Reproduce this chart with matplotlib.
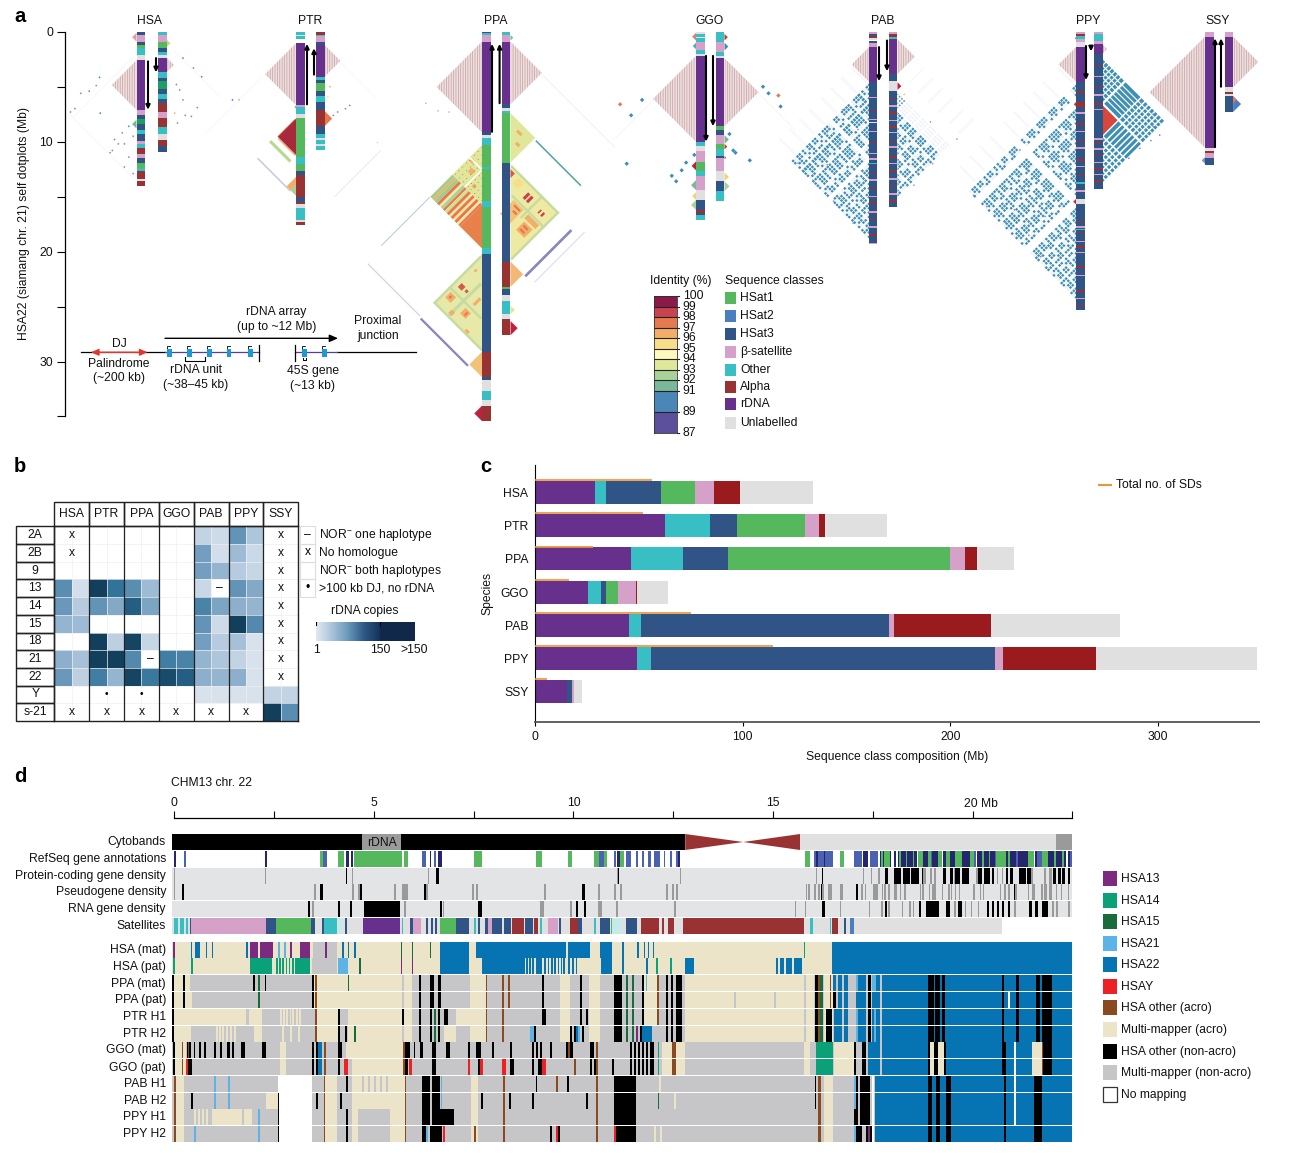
import numpy as np
import matplotlib
matplotlib.use('Agg')
import matplotlib.pyplot as plt
from matplotlib.patches import Polygon, Rectangle
from matplotlib.collections import PolyCollection
from matplotlib.colors import LinearSegmentedColormap, ListedColormap

plt.rcParams['font.family'] = ['Liberation Sans', 'DejaVu Sans']
plt.rcParams['mathtext.default'] = 'regular'
plt.rcParams['hatch.linewidth'] = 0.5
FS = 8.7

CLS = {'r': '#66308c', 's': '#315487', 'g': '#56b85c', 'G': '#1e9e60', 'b': '#d6a1c8', 'o': '#38bfc4',
       'a': '#993333', 'u': '#e0e0e0', 'h': '#4a7ebf', 'w': '#ffffff', 'd': '#2c3a5c'}

# ---------------- panel a: sequence-class tracks (class, end Mb) -----------------
hsa_l = [('s',.3),('b',.9),('s',1.2),('g',1.5),('o',2.1),('u',2.6),('r',7.1),('b',7.6),('s',7.9),('G',8.4),('s',8.9),('o',9.3),('s',9.9),('b',10.2),('o',10.6),('a',11.1),('b',11.5),('s',11.9),('g',12.4),('o',12.7),('a',13.4),('u',13.6),('a',14.0)]
hsa_r = [('o',.3),('b',.9),('g',1.5),('s',1.8),('o',2.1),('u',2.35),('r',3.7),('o',4.2),('s',4.5),('G',5.2),('s',5.7),('o',6.1),('s',6.5),('a',7.3),('b',7.8),('a',8.7),('o',9.3),('u',9.8),('a',10.4),('s',10.9)]
ptr_l = [('o',.3),('u',.4),('o',.7),('w',1.05),('r',6.67),('b',6.8),('o',7.5),('u',7.8),('g',11.4),('o',12.0),('g',12.7),('s',13.0),('a',15.0),('s',15.5),('a',15.7),('u',16.0),('o',16.4),('o',17.1),('u',17.3),('a',17.6)]
ptr_r = [('a',.3),('o',.4),('b',.9),('s',1.2),('r',4.1),('o',4.4),('s',4.7),('g',5.4),('s',5.8),('o',6.4),('s',7.1),('a',8.6),('s',9.3),('o',9.7),('u',9.85),('o',10.2),('u',10.35),('o',10.75)]
ppa_l = [('s',.1),('o',.3),('b',.9),('r',9.15),('s',9.35),('u',9.7),('o',10.3),('g',12.3),('o',12.5),('g',15.4),('o',15.9),('g',19.7),('o',20.2),('s',29.1),('a',31.4),('s',31.7),('u',32.7),('o',33.5),('u',34.0),('a',35.4)]
ppa_r = [('o',.3),('b',.9),('r',6.6),('s',6.9),('u',7.2),('o',7.4),('g',11.9),('s',20.9),('a',23.2),('g',23.4),('s',23.9),('u',24.5),('o',25.7),('u',26.1),('a',27.6)]
ggo_l = [('u',.2),('o',.5),('u',.6),('o',.9),('b',1.7),('o',2.0),('u',2.2),('r',10.0),('o',10.4),('u',10.8),('b',11.8),('g',12.7),('o',13.1),('b',14.4),('u',15.3),('s',16.2),('a',16.5),('s',16.7),('o',17.1)]
ggo_r = [('o',.9),('b',1.8),('o',2.2),('u',2.4),('r',8.6),('g',8.9),('s',9.4),('b',10.2),('g',10.7),('o',11.3),('s',11.5),('b',12.7),('u',13.6),('s',14.5),('o',15.4)]
pab_l = [('b',.2),('s',.4),('a',.6),('u',.8),('s',1.0),('b',1.4),('r',4.55),('s',19.3)]
pab_r = [('b',.2),('a',.5),('o',.7),('r',3.85),('s',4.5),('u',5.4),('s',15.9)]
ppy_l = [('b',.2),('a',.4),('o',.7),('b',.9),('u',1.4),('r',4.55),('s',6.4),('a',6.8),('s',15.2),('u',15.7),('s',25.3)]
ppy_r = [('b',.2),('o',.8),('b',1.15),('r',2.0),('s',14.3)]
ssy_l = [('b',.45),('r',10.55),('u',10.8),('a',11.0),('b',11.5),('s',12.1)]
ssy_r = [('b',.45),('r',5.05),('u',5.5),('a',5.7),('u',5.85),('s',7.3)]

pab_l_marks = [('b',5.9),('a',7.1),('b',7.9),('u',8.2),('b',9.0),('a',10.1),('b',11.0),('b',11.5),('o',11.9),('a',12.8),('b',13.4),('a',14.2),('b',14.9),('a',15.5),('b',16.3),('a',17.0),('b',17.7),('a',18.4),('b',19.2)]
pab_r_marks = [('a',6.0),('b',6.7),('a',7.3),('b',8.0),('a',8.6),('b',9.1),('a',9.8),('b',10.4),('a',11.3),('b',11.9),('a',12.6),('b',13.3),('a',14.1),('b',14.7),('a',15.3)]
ppy_l_marks = [('a',5.4),('b',7.3),('a',8.3),('b',9.0),('a',9.8),('b',10.5),('a',11.6),('b',12.2),('a',13.0),('o',13.7),('b',14.4),('a',17.2),('b',17.7),('a',18.2),('o',17.9),('b',19.0),('a',19.5),('b',20.0),('a',21.3),('b',22.1),('a',23.5),('b',24.2),('a',24.8)]
ppy_r_marks = [('a',3.0),('b',4.0),('a',4.9),('b',5.7),('a',6.5),('b',7.0),('b',9.7),('a',10.1),('b',10.6),('a',11.2),('b',11.8),('a',12.4),('b',12.9),('a',13.5)]
hsat_marks = {'pab_l': pab_l_marks, 'pab_r': pab_r_marks, 'ppy_l': ppy_l_marks, 'ppy_r': ppy_r_marks}

species = ['HSA', 'PTR', 'PPA', 'GGO', 'PAB', 'PPY', 'SSY']
tracks = {'HSA': (hsa_l, hsa_r), 'PTR': (ptr_l, ptr_r), 'PPA': (ppa_l, ppa_r), 'GGO': (ggo_l, ggo_r),
          'PAB': (pab_l, pab_r), 'PPY': (ppy_l, ppy_r), 'SSY': (ssy_l, ssy_r)}
arrows = {'HSA': ((2.7,7.1),(2.4,3.7)), 'PTR': ((6.6,1.1),(3.9,1.5)), 'PPA': ((9.1,1.1),(6.5,1.1)),
          'GGO': ((2.2,10.0),(2.2,8.6)), 'PAB': ((1.4,4.5),(.8,3.6)), 'PPY': ((1.3,4.4),(1.3,1.8)),
          'SSY': ((10.5,.6),(5.0,.6))}
rdna_spans = {'HSA': ((2.6,7.1),(2.35,3.7)), 'PTR': ((1.05,6.67),(1.2,4.1)), 'PPA': ((.9,9.15),(.9,6.6)),
              'GGO': ((2.2,10.0),(2.4,8.6)), 'PAB': ((1.4,4.55),(.7,3.85)), 'PPY': ((1.4,4.55),(1.15,2.0)),
              'SSY': ((.45,10.55),(.45,5.05))}

I100, I99, I98, I97, I96, I95, I94, I93, I92, I91, I89 = ['#8b1a4b','#c8424f','#e57a4e','#f3ae6a','#f8dd8a','#fdf7c0','#dfe89a','#a9d29a','#7ab89a','#4a86b8','#5b4f9e']
TILE = '#3d8fb5'; LILAC = '#8a88c0'; PALE = '#f7f8fb'; BASE_L = '#e6e9a8'; BASE_R = '#eeeaa2'; GRN = '#c4dca2'; YG = '#dfe89a'

ppa_base = [(10.3,15.7,YG,0),(20.2,29.1,BASE_L,0),(7.4,11.9,YG,1),(12.0,20.9,BASE_R,1),(24.9,25.7,YG,1)]
base_selfs = {'PPA': ppa_base}
hsa_selfs = [(.1,.9,'#d9a0a0',0),(.7,1.4,'#c8d878',1),(8.0,8.8,'#7ab89a',0)]
ptr_selfs = [(7.9,11.2,'#a8283c',0),(13.2,14.9,'#f3ae6a',0),(13.9,14.9,'#a9d29a',0),(7.2,8.6,'#e57a4e',1),(6.7,7.0,'#7ab89a',0)]
ppa_selfs = [(15.7,19.7,'#e8804a',0),(29.1,31.4,'#f3c27a',0),(34.0,35.4,'#c0203f',0),(20.9,23.2,'#f3b875',1),(26.3,27.6,'#c0203f',1),(.3,.8,'#7ab89a',1),(12.5,13.3,'#d05a50',1)]
ggo_selfs = [(.1,.8,'#e08070',0),(1.0,1.6,'#5aa8b0',0),(11.8,12.6,'#c02040',0),(13.5,14.4,'#7ab89a',0),(14.6,15.3,'#f3d080',0),(15.3,16.2,'#a9d29a',0),
             (.2,.8,'#c0382f',1),(1.0,1.7,'#3d8fb5',1),(9.4,10.2,'#7ab89a',1),(10.2,10.7,'#c0382f',1),(11.3,11.6,'#c0382f',1),(12.8,13.6,'#f3d080',1),(13.6,14.5,'#a9d29a',1)]
pab_selfs = [(4.6,5.3,'#c0203f',1)]
ppy_selfs = [(6.4,6.8,'#c0382f',0),(15.2,15.7,'#c0203f',0),(6.7,9.4,'#d9463c',1),(.5,.7,'#c0382f',0)]
ssy_selfs = [(5.85,7.3,'#4a7ebf',1),(5.85,6.5,'#e57a4e',1),(11.4,12.0,'#7a8fc0',0)]
selfs = {'HSA': hsa_selfs, 'PTR': ptr_selfs, 'PPA': ppa_selfs, 'GGO': ggo_selfs, 'PAB': pab_selfs, 'PPY': ppy_selfs, 'SSY': ssy_selfs}

hsa_bands = [(1.3,14.0,13.55,13.6,'#ececf2',0),(2.0,2.05,2.6,13.6,'#ececf2',0),(1.0,1.05,2.4,10.9,'#ececf2',1)]
ptr_bands = [(7.6,11.3,12.1,12.5,'#b8d890',0),(8.0,14.0,14.9,15.1,'#c8c8e0',0),(7.8,8.1,8.1,11.2,'#f3ae6a',0),(8.1,11.2,11.2,11.4,'#f3ae6a',0),(1.0,1.05,7,17.4,'#f0f0f4',0),(1.3,1.35,4.1,10.7,'#f0f0f4',1)]
ppa_lines = [(20.5,29.1,31.5,31.8,LILAC,0),(10.7,20.2,31.4,31.55,'#d0d0e4',0),(10.25,10.35,19.8,28.6,'#9cc4c8',0),(1.55,1.62,20,28.4,'#cfe0e0',0),
             (12.5,20.9,23.4,23.75,LILAC,1),(7.5,7.7,12.2,20.4,'#5aa0a0',1),(1.0,1.07,7,20,'#dfe6e6',1),(11.5,20.6,24.9,25.0,'#d0d0e4',1)]
ppa_stripes = [(10.3,10.7,'#9ecf8a'),(10.7,11.0,I97),(11.0,11.5,'#9ecf8a'),(11.5,11.9,I98),(11.9,12.2,'#f6e7a0'),(12.2,12.6,'#a9d29a'),(12.6,12.9,I98),(12.9,13.3,'#cfe28f'),(13.3,13.7,I98),(13.7,14.0,'#f6e7a0'),(14.0,14.4,I98),(14.4,14.7,'#f6e7a0'),(14.7,15.1,I98),(15.1,15.4,'#f6e7a0'),(15.4,15.7,I98)]
ppa_patches = [(22.6,23.0,23,29,GRN,0),(20.2,26.0,26.0,26.3,GRN,0),(20.2,20.5,20.5,29,GRN,0),(20.2,29,28.8,29.1,GRN,0),
               (21.0,21.7,24.7,25.4,'#cf5a4e',0),(22.0,22.4,24.8,25.2,'#cf5a4e',0),(20.8,21.8,26.5,27.5,I97,0),(23.6,24.6,26.6,27.6,I97,0),(22.5,23.1,28.0,28.6,I97,0),(25.6,26.2,28.4,28.8,I97,0),(23.9,24.3,24.4,25.6,I97,0),(21.0,21.3,22.1,22.5,I97,0),
               (24.1,24.35,26.8,27.4,I98,0),(21.1,21.4,26.8,27.2,I98,0),
               (12.0,16.0,17.7,18.0,GRN,1),(14.6,14.9,15.0,20.9,GRN,1),(12.0,12.3,12.3,20.9,GRN,1),(12,20.6,20.6,20.9,GRN,1),
               (13.0,14.0,16.2,16.6,I99,1),(13.0,14.0,16.8,17.2,I99,1),(13.4,14.0,18.9,19.1,I99,1),(13.4,14.0,19.4,19.7,I99,1),(16.0,17.5,18.5,20.0,I97,1),(16.3,16.6,18.8,19.6,I98,1),(16.9,17.2,18.8,19.6,I98,1),(15.0,15.7,18.2,20.2,I97,1),
               (15.0,17.5,15.6,17.4,'#f3c27a',1),(15.3,15.6,16.1,17.2,I98,1),(15.9,16.2,16.5,17.2,I98,1),(12.6,13.6,14.0,15.0,I96,1),
               (11.4,12.1,13.3,14.0,I97,0),(10.6,11.1,12.4,12.9,I97,0),(13.1,13.6,14.5,15.0,I97,0),(12.45,12.65,12.7,15.7,'#ffffff',0),(10.3,12.45,12.45,12.65,'#ffffff',0),
               (8.2,8.6,9.6,10.4,I97,1),(9.4,9.8,10.6,11.2,I97,1)]
ppa_bands = ppa_lines + [(a,b,15.7,19.7,c,0) for a,b,c in ppa_stripes] + ppa_patches
ggo_bands = [(2.3,2.37,10,17,'#f0f0f4',0),(2.5,2.57,8.6,15.4,'#f0f0f4',1)]
bands = {'HSA': hsa_bands, 'PTR': ptr_bands, 'PPA': ppa_bands, 'GGO': ggo_bands, 'PAB': [], 'PPY': [], 'SSY': []}

hsa_spots = [(5.6,5.06,LILAC,0),(5.4,4.3,TILE,0),(4.15,3.36,TILE,0),(4.9,3.66,LILAC,0),(7.0,5.6,LILAC,0),(7.3,6.0,LILAC,0),(10.8,2.2,LILAC,0),(9.2,1.3,LILAC,0),(8.6,.7,TILE,0),(10.2,1.1,LILAC,0),(9.5,.3,LILAC,0),(10.2,1.66,LILAC,0),(11.0,2.4,LILAC,0),(11.4,.7,LILAC,0),(12.9,.3,LILAC,0),(12.3,1.1,LILAC,0),(9.8,2.0,LILAC,0),(7.4,3.3,TILE,0),
             (2.4,1.5,TILE,1),(3.3,2.45,LILAC,1),(4.1,3.2,TILE,1),(6.2,1.5,LILAC,1),(7.4,.75,I97,1),(7.6,1.7,LILAC,1),(7.7,2.26,LILAC,1),(6.2,6.6,I97,1),(6.2,6.0,TILE,1),(5.3,1.2,LILAC,1),(8.3,1.0,LILAC,1),(4.8,.9,LILAC,1),(6.9,2.8,LILAC,1)]
ptr_spots = [(7.3,1.2,LILAC,1),(7.0,1.9,LILAC,1),(7.6,.8,LILAC,1),(6.7,2.3,LILAC,1),(5.0,.5,I97,1),(5.9,.3,I96,1)]
ppa_spots = [(7.3,3.0,'#7ab89a',0),(7.2,4.0,'#7ab89a',0),(6.5,5.1,'#7ab89a',0),(10.1,9.5,'#c8d8d8',0)]
ggo_spots = [(12.6,1.3,TILE,0),(13.1,2.2,TILE,0),(11.2,.15,TILE,0),(11.9,.9,TILE,0),(6.2,4.9,TILE,0),(7.6,5.9,TILE,0),(12.0,6.3,TILE,0),(6.6,6.9,I98,0),(13.6,1.8,TILE,0),
             (5.0,3.5,TILE,1),(5.6,4.0,TILE,1),(5.8,4.9,I98,1),(6.8,5.1,TILE,1),(11.0,1.0,TILE,1),(11.7,2.3,TILE,1),(9.3,.45,TILE,1),(10.8,.8,TILE,1)]
pab_spots = [(5.7,.6,I97,1),(5.9,.3,I96,1),(11.95,6.45,LILAC,0),(13.5,5.1,LILAC,0),(12.1,3.8,LILAC,0),(12.85,3.1,LILAC,0),(8.9,1.0,LILAC,0),(7.1,2.4,LILAC,0),(17.4,1.45,LILAC,0),(14.2,4.45,LILAC,0),(10.4,5.3,LILAC,0),(15.4,3.2,LILAC,0),(13.95,1.5,LILAC,1),(9.76,5.4,LILAC,1),(12.0,3.2,LILAC,1),(8.2,3.0,LILAC,1)]
ppy_spots = [(15.9,8.1,LILAC,0),(13.5,3.4,LILAC,0),(10.75,5.1,LILAC,0),(16.8,2.8,LILAC,0),(12.6,4.4,LILAC,0),(17.3,6.4,LILAC,0),(6.5,1.3,LILAC,0),(20.45,3.2,LILAC,0),(14.9,9.3,LILAC,0),(18.5,4.3,LILAC,0),(16.2,5.6,LILAC,0),(11.4,3.0,LILAC,0),
             (8.6,4.6,LILAC,1),(9.4,5.2,LILAC,1),(7.5,4.6,LILAC,1),(10.6,3.4,LILAC,1),(9.9,4.4,LILAC,1),(11.5,2.4,LILAC,1),(6.4,3.5,LILAC,1)]
ssy_spots = []
spots = {'HSA': hsa_spots, 'PTR': ptr_spots, 'PPA': ppa_spots, 'GGO': ggo_spots, 'PAB': pab_spots, 'PPY': ppy_spots, 'SSY': ssy_spots}
spot_size = {'HSA': .1, 'PTR': .1, 'PPA': .08, 'GGO': .2, 'PAB': .09, 'PPY': .1, 'SSY': .1}

# repeat-unit lattices: 'a' pairs with all but 'n'; b, c, d only with themselves
pab_l_units = [(4.7,5.0),(5.1,5.4),(5.5,5.8),(5.9,6.2),(6.5,6.9),(7.0,7.3),(7.4,7.7),(7.8,8.1),(8.4,8.7),(8.8,9.1),(9.2,9.5),(9.6,9.9),(10.2,10.5),(10.6,10.9),(11.0,11.3),
               (11.9,12.2),(12.3,12.6),(12.7,13.0),(13.1,13.4),(13.7,14.0),(14.1,14.4),(14.5,14.8),(14.9,15.2),(15.5,15.8),(15.9,16.2),(16.3,16.6),(16.7,17.0),(17.3,17.6),(17.7,18.0),(18.1,18.4),(18.5,18.8)]
pab_l_fam = 'cbdbacbdabbcdbc' + 'dbcabdbcabdcbadc' 
pab_r_units = [(5.6,5.8),(6.0,6.2),(6.4,6.6),(6.8,7.0),(7.3,7.6),(7.7,8.0),(8.1,8.4),(8.7,9.0),(9.1,9.4),(9.5,9.8),(10.1,10.4),(10.5,10.8),(10.9,11.2),(11.5,11.8),(11.9,12.2),(12.3,12.6),(12.9,13.2),(13.3,13.6),(13.7,14.0),(14.3,14.6),(14.7,15.0)]
pab_r_fam = 'nnnnbcadbcabdcbadcbad'
ppy_l_units = [(4.8,5.1),(5.2,5.5),(5.6,5.9),(7.0,7.3),(7.4,7.7),(7.8,8.1),(8.2,8.5),(8.8,9.1),(9.2,9.5),(9.6,9.9),(10.0,10.3),(10.6,10.9),(11.0,11.3),(11.4,11.7),(11.8,12.1),(12.4,12.7),(12.8,13.1),(13.2,13.5),(13.6,13.9),(14.2,14.5),(14.6,14.9),
               (16.0,16.3),(16.4,16.7),(16.8,17.1),(17.2,17.5),(17.8,18.1),(18.2,18.5),(18.6,18.9),(19.0,19.3),(19.6,19.9),(20.0,20.3),(20.4,20.7),(20.8,21.1),(21.4,21.7),(21.8,22.1),(22.2,22.5),(22.6,22.9),(23.2,23.5),(23.6,23.9),(24.0,24.3)]
ppy_l_fam = 'bcdabcdbacdbcabdcabdc' + 'bcadbcdabdcbadbcabd'
ppy_r_units = [(2.5,3.0),(3.15,3.55),(3.7,4.1),(4.25,4.65),(4.8,5.2),(5.35,5.75),(5.9,6.4),(6.7,9.4),(9.6,10.1),(10.3,10.7),(10.9,11.3),(11.5,11.9),(12.1,12.5),(12.7,13.1),(13.3,13.7)]
ppy_r_fam = 'aaaaaaaaaaaaaaa'
ppa_g_units = [(10.5,10.6),(11.2,11.3),(11.9,12.0),(12.8,12.9),(13.3,13.4),(14.0,14.1),(14.7,14.8),(15.3,15.4)]
ppa_g_fam = 'aaaaaaaa'
lattices = [('PAB',0,pab_l_units,pab_l_fam,TILE,(1.6,4.4)),('PAB',1,pab_r_units,pab_r_fam,TILE,(1.0,3.7)),
            ('PPY',0,ppy_l_units,ppy_l_fam,TILE,(1.6,4.4)),('PPY',1,ppy_r_units,ppy_r_fam,TILE,None),
            ('PPA',0,ppa_g_units,ppa_g_fam,I99,None)]

identity_labels = [100,99,98,97,96,95,94,93,92,91,89,87]
identity_colors = [I100,I99,I98,I97,I96,I95,I94,I93,I92,I91,I89]
identity_index = [0,1,2,3,4,5,6,7,8,9,11,13]
class_legend = [('HSat1','g'),('HSat2','h'),('HSat3','s'),('β-satellite','b'),('Other','o'),('Alpha','a'),('rDNA','r'),('Unlabelled','u')]

# ---------------- panel b -----------------
b_rows = ['2A','2B','9','13','14','15','18','21','22','Y','s-21']
n = np.nan
b_hsa = [[n,n],[n,n],[n,n],[85,12],[75,30],[50,45],[n,n],[55,40],[75,25],[n,n],[n,n]]
b_ptr = [[n,n],[n,n],[n,n],[150,110],[80,60],[n,n],[150,25],[150,150],[100,50],[n,n],[n,n]]
b_ppa = [[n,n],[n,n],[n,n],[85,45],[125,65],[n,n],[145,20],[90,n],[145,105],[n,n],[n,n]]
b_ggo = [[n,n],[n,n],[n,n],[n,n],[n,n],[n,n],[n,n],[100,95],[140,125],[n,n],[n,n]]
b_pab = [[22,15],[70,12],[70,50],[18,n],[95,65],[80,15],[70,30],[50,35],[55,50],[8,8],[n,n]]
b_ppy = [[80,35],[45,17],[30,20],[80,60],[55,50],[150,90],[40,8],[22,8],[55,8],[8,8],[n,n]]
b_ssy = [[n,n],[n,n],[n,n],[n,n],[n,n],[n,n],[n,n],[n,n],[n,n],[22,22],[150,85]]
b_x = {'HSA':['2A','2B','s-21'],'PTR':['s-21'],'PPA':['s-21'],'GGO':['s-21'],'PAB':['s-21'],'PPY':['s-21'],
       'SSY':['2A','2B','9','13','14','15','18','21','22']}
b_dots = {'PTR':['Y'],'PPA':['Y']}
b_dash = [('PAB','13',1),('PPA','21',1)]
b_legend = ['NOR$^{-}$ one haplotype','No homologue','NOR$^{-}$ both haplotypes','>100 kb DJ, no rDNA']
b_legend_sym = ['–','x','','•']

# ---------------- panel c -----------------
c_rdna  = [28.6,62.3,46.0,25.6,45.0,48.8,15.5]
c_other = [5.4,21.7,25.4,5.9,5.7,6.9,0.0]
c_hsat3 = [26.8,13.0,21.5,2.5,119.7,166.0,2.0]
c_hsat1 = [16.0,33.0,107.1,6.0,0.0,0.0,0.0]
c_beta  = [9.2,6.7,7.0,8.5,2.5,3.9,1.0]
c_alpha = [12.5,3.0,6.0,0.5,46.8,44.4,0.0]
c_unlab = [35.2,30.0,17.8,14.8,62.3,77.8,4.2]
c_sds   = [56.4,51.7,27.6,16.0,74.8,114.5,5.4]
c_stack = [('r',c_rdna,'#66308c'),('o',c_other,'#38bfc4'),('s',c_hsat3,'#315487'),('g',c_hsat1,'#56b85c'),('b',c_beta,'#d6a1c8'),('a',c_alpha,'#991b1e'),('u',c_unlab,'#e0e0e0')]

# ---------------- panel d -----------------
DC = {'H13':'#7b2a80','H14':'#0aa078','H15':'#1a6b3c','H21':'#5cb3e6','H22':'#0673b3','HY':'#ed2024',
      'OA':'#8a4a20','MA':'#ebe4c8','ON':'#000000','MN':'#c6c6c8','W':'#ffffff','GL':'#e3e4e6','DG':'#9a9a9a',
      'RG':'#56b85c','RB':'#4a62b0','RN':'#26266e',
      'r':CLS['r'],'s':CLS['s'],'g':CLS['g'],'b':CLS['b'],'o':CLS['o'],'a':CLS['a'],'u':'#e0e0e0','p':'#c6eaea','h':CLS['h']}
d_legend = [('HSA13','H13'),('HSA14','H14'),('HSA15','H15'),('HSA21','H21'),('HSA22','H22'),('HSAY','HY'),
            ('HSA other (acro)','OA'),('Multi-mapper (acro)','MA'),('HSA other (non-acro)','ON'),('Multi-mapper (non-acro)','MN'),('No mapping','W')]
refseq = [('RB',[(.24,.3),(3.72,3.82),(6.2,6.3),(6.48,6.54),(10.62,10.75),11.0,11.3,(11.3,11.42),11.55,11.7,(11.85,11.92),(11.98,12.15),12.24,12.4,12.55,
                 (16.0,16.47),(17.0,17.18),(17.4,17.6),(18.9,19.2),(19.9,20.05),(20.52,20.6),(21.03,21.1),(21.55,21.7),(22.38,22.47)]),
          ('RN',[(0,.05),(2.26,2.31),(4.3,4.36),(4.42,4.47),6.38,(6.6,6.7),(11.07,11.15),12.6,16.05,16.23,(17.22,17.35),(17.65,17.92),18.0,(18.08,18.57),(18.71,18.84),(18.93,19.09),(19.22,19.35),(19.39,19.89),(20.06,20.52),(20.79,21.03),(21.1,21.49),21.52,(21.85,22.3),(22.33,22.38)]),
          ('RG',[(3.63,3.72),(4.1,4.23),(4.5,5.7),(5.75,5.85),(7.5,7.7),(9.05,9.2),(10.5,10.62),(10.75,10.82),(9.85,9.93),(11.15,11.25),(15.77,15.88),(16.64,16.74),
                 (17.67,17.72),(17.75,17.9),18.12,18.29,18.46,(18.59,18.71),(18.84,18.92),(19.09,19.19),(19.28,19.39),(19.52,19.7),(19.9,19.98),20.2,20.36,(20.54,20.78),20.85,(21.35,21.49),(21.69,21.85),22.0,22.2])]
protein_gray = [.0,2.27,4.45,6.35,11.07,12.65,16.03,17.22,17.42,(17.6,17.65),(18.72,18.78),(18.9,18.94),(19.0,19.05),19.48,(20.03,20.1),(20.57,20.6),20.68,(21.42,21.47),(21.75,21.8),(21.87,21.94)]
protein_black = [4.3,(6.55,6.62),11.1,16.2,(17.73,17.75),(17.77,17.85),(17.98,18.17),(18.21,18.4),(18.42,18.62),18.68,(19.22,19.29),(19.4,19.46),(19.51,19.64),(19.68,19.87),(20.1,20.2),(20.23,20.4),(20.44,20.49),(20.78,20.84),(20.88,20.96),(21.11,21.28),(21.31,21.41),(21.97,22.04),(22.08,22.17),(22.19,22.27),(22.33,22.38)]
pseudo_gray = [-.02,3.5,4.45,4.6,5.5,5.7,(5.75,5.85),6.3,7.45,(7.55,7.6),9.25,10.6,11.0,11.15,12.3,12.45,12.55,15.78,15.85,(15.98,16.05),(16.09,16.14),(16.2,16.24),(16.34,16.43),(16.64,16.72),17.04,(17.16,17.21),(17.26,17.3),(17.47,17.59),17.68,17.75,17.85,(18.0,18.07),18.13,18.25,18.64,18.7,18.86,18.95,19.0,(19.18,19.22),19.35,19.42,19.52,19.62,(19.97,20.02),20.14,20.22,20.64,(20.74,20.79),(20.84,20.9),(20.98,21.07),21.33,(21.45,21.52),(21.66,21.72),(21.75,21.82),(21.87,21.95),22.03,22.17,22.34]
pseudo_black = [.2,(3.65,3.72),4.65,6.25,(10.2,10.27),16.16,17.05,20.99]
rna_gray = [3.45,(5.75,5.8),6.72,7.6,(9.15,9.25),9.9,(10.6,10.7),11.05,12.5,15.52,15.77,16.64,17.37,(17.66,17.71),(17.83,17.89),18.19,(18.37,18.42),18.47,19.5,19.76,19.92,20.08,20.99,21.0,21.95,22.05,22.35]
rna_black = [3.35,4.1,4.4,(4.75,5.65),6.65,(7.6,7.7),(10.05,10.1),(10.25,10.3),(16.2,16.27),(17.77,17.82),(18.62,18.67),(18.79,19.11),(19.3,19.39),(19.6,19.68),(20.31,20.37),(20.44,20.49),(20.57,20.61),(20.69,20.75),(20.83,20.9),(21.37,21.44),(21.52,21.6),(21.7,21.84)]
cyto = [('ON',[(-.06,4.7)]),('DG',[(4.7,5.67)]),('ON',[(5.67,12.77)]),('u',[(15.64,22.04)]),('DG',[(22.04,22.47)])]
cyto_cen = (12.77,14.22,15.64)
satellites = [('u',[(-.06,20.69)]),('o',[(0,.1),(.15,.25),(.28,.33),(3.75,4.07)]),('s',[.39,(2.3,2.55),(3.42,3.52),(3.7,3.73),4.27,(5.88,5.96),6.3,6.42,6.52,(7.03,7.37),7.6,(7.77,7.9),(7.93,8.2),(8.25,8.42),(8.76,8.96),9.62,(10.1,10.2),(10.65,10.9),(11.3,11.57),(11.9,12.0),(16.75,16.8)]),
              ('h',[(16.9,17.0)]),('b',[(.42,2.3),(5.96,6.17),(7.85,7.95),(9.33,9.6)]),('g',[(2.55,3.42),(6.64,7.03),10.92]),('r',[(4.72,5.65),(12.0,12.05)]),('p',[(4.1,4.2),(10.95,11.2)]),
              ('a',[(8.43,8.74),(9.0,9.1),(9.9,10.1),(11.67,12.12),(12.2,12.25),(12.33,12.5),(12.71,15.73),(16.45,16.6)]),('o',[5.68,7.5,9.15,10.5,(15.88,15.96),16.38])]

T1 = [(18.83,18.98),(19.02,19.15),(19.2,19.26),(20.69,20.75),(21.03,21.11),(21.55,21.63),(21.7,21.95)]
hsa_mat = [('MA',[(-.06,16.45)]),('H22',[(16.45,22.47),(6.64,7.37),(7.55,9.8),(9.83,10.4),(10.65,10.93),.41,(.52,.65),.78,.93,1.8,4.2,4.34,4.5,11.2,11.57,11.73,11.83,11.96]),
           ('MN',[(3.47,4.07)]),('H13',[(1.9,2.1),(2.14,2.46),(3.15,3.4),3.77,-.03,2.9]),('H21',[2.6,2.75]),('H15',[5.66,5.93,6.38]),('H14',[15.73])]
hsa_pat = [('MA',[(-.06,16.45)]),('H22',[(16.45,22.47),(6.64,7.37),(7.68,8.76),(9.03,9.18),8.8,8.87,8.95,9.25,9.33,9.42,9.5,9.58,9.66,9.72,9.85,9.95,10.03,(10.67,10.93),11.2,(12.76,13.0),(15.05,15.1),(15.15,15.25),(15.3,15.45),(15.5,15.68),11.8]),
           ('H14',[(1.88,2.45),2.55,2.62,2.7,2.78,2.86,2.95,(3.02,3.4),-.03,.42,12.05,12.4]),('H15',[4.62]),('MN',[(3.45,4.07)]),('H21',[(4.1,4.34)]),('H13',[5.66,5.93])]
ppa_mat = [('MN',[(-.06,17.68)]),('H22',[(17.68,22.47),(16.47,16.55),(16.6,16.7),(16.75,16.84),(17.05,17.3),(17.45,17.65)]),
           ('MA',[(0,.4),(3.45,5.7),(5.75,5.95),(7.4,7.8),(9.65,9.9),(10.37,10.65),(12.77,15.73),(15.8,16.0),(16.25,16.47),(11.7,12.1)]),
           ('ON',[(-.06,0),.22,1.97,2.26,3.45,6.12,(6.38,6.48),(6.6,6.66),9.2,10.15,(11.0,11.2),11.7,12.3,12.42,(12.55,12.68),(16.02,16.08),(17.35,17.42)]+T1),
           ('OA',[3.52,7.78,8.2,8.35,12.07,(16.1,16.14),16.38]),('H15',[4.34,2.1,11.3,11.45,(16.15,16.22)]),('H21',[(17.05,17.1),(17.45,17.55),(11.78,11.82)])]
ppa_pat = [('MN',[(-.06,17.68)]),('H22',[(17.68,22.47),(16.6,16.7),(16.75,16.84),(17.05,17.3),(17.45,17.65)]),
           ('MA',[(0,.43),(3.45,5.7),(5.75,5.95),(7.4,7.8),(9.65,9.9),(10.37,10.65),(12.77,15.73),(15.8,16.0),(16.25,16.47),(11.7,12.1)]),
           ('MN',[14.0,15.0]),('W',[20.85]),
           ('ON',[(-.06,0),.22,3.45,6.12,(6.38,6.48),(6.6,6.66),9.2,10.15,(11.0,11.2),11.7,12.3,12.42,(12.55,12.68),(16.02,16.08),(16.47,16.55),(17.35,17.42)]+T1),
           ('OA',[3.52,7.78,8.2,8.35,12.07,(16.1,16.14),16.38]),('H15',[2.1,11.3,11.45,(16.15,16.22)])]
ptr_h1 = [('MN',[(-.06,17.68)]),('H22',[(17.68,22.47),(16.5,16.7),(16.75,16.84),(17.05,17.3),(17.45,17.65)]),
          ('MA',[(0,1.8),(1.87,2.2),2.65,2.72,2.8,2.88,2.95,3.05,3.12,(3.53,4.1),(4.35,5.68),(5.75,5.95),(7.05,7.4),(7.4,7.8),(9.65,9.9),(10.37,10.65),(12.77,15.73),(15.8,16.0),(16.25,16.47),(11.7,12.1)]),
          ('ON',[(-.06,0),4.1,(5.68,5.73),6.12,(6.38,6.45),6.6,(6.75,6.85),(9.2,9.3),10.15,10.3,(11.0,11.2),11.7,12.3,12.42,(12.55,12.68),(16.02,16.08),(16.3,16.45),(17.35,17.42)]+T1),
          ('OA',[3.52,7.78,8.2,12.07,(16.1,16.14)]),('H15',[6.5,11.3,11.45,(16.15,16.22)]),('H21',[17.05,17.5])]
ptr_h2 = [('MN',[(-.06,17.68)]),('H22',[(17.68,22.47),(16.5,16.7),(16.75,16.84),(17.05,17.3),(17.45,17.65),(11.67,11.95),10.05,10.1]),
          ('MA',[(0,.42),1.05,1.12,1.2,1.3,1.4,1.5,(2.0,2.2),2.7,2.9,3.1,(3.53,4.1),(4.35,5.68),(5.75,5.95),(6.75,7.05),(7.4,7.8),(9.65,9.9),(10.37,10.65),(12.77,15.73),(15.8,16.0),(16.25,16.47)]),
          ('ON',[(-.06,0),4.1,4.27,6.12,(6.38,6.45),6.6,(9.0,9.05),9.9,(10.0,10.05),10.2,(11.0,11.2),11.65,12.3,12.42,(12.55,12.68),(16.02,16.08),(16.3,16.45),(17.35,17.42)]+T1),
          ('OA',[3.52,7.78,8.2,(16.1,16.14)]),('H15',[4.5,6.5,11.3,11.45,(16.15,16.22)]),('H21',[(8.9,9.0),10.1,17.05,17.5]),('H13',[11.55])]
ggo_black = [-.03,(.32,.41),.49,.62,.75,(.98,1.03),(1.14,1.19),(1.31,1.39),(1.45,1.5),(1.66,1.76),2.2,2.25,3.45,(3.55,3.6),(4.08,4.18),(5.76,5.88),5.99,(6.14,6.22),(6.45,6.55),(6.8,6.9),7.35,(7.55,7.66),7.95,8.4,(8.95,9.0),(9.05,9.1),(9.15,9.2),9.4,(9.8,9.97),(10.4,10.5),(11.4,11.45),(11.5,11.55),(11.6,11.65),(11.7,11.75),(11.8,11.85),(11.9,11.98),(17.0,17.05),(17.2,17.3),(20.69,20.8),(21.7,21.95)]
ggo_mat = [('MN',[(-.06,17.68)]),('H22',[(17.68,22.47),(3.55,3.68),(17.35,17.65)]),('MA',[(0,.3),(2.65,2.8),(4.3,5.76),(12.2,12.77),(15.73,15.88),(16.5,17.0),(18.83,19.3),(21.45,21.7)]),
           ('ON',ggo_black+[(18.83,18.9),(19.0,19.08),(19.24,19.3)]),('OA',[.18,.33,3.75,5.72,9.85,10.55,(12.45,12.55),21.68]),
           ('H14',[(16.05,16.47),12.08]),('W',[21.0,22.45])]
ggo_pat = [('MN',[(-.06,17.68)]),('H22',[(17.68,22.47),(3.55,3.68),(17.35,17.65)]),('MA',[(0,.3),(2.65,2.8),(4.45,5.76),(12.2,12.77),(15.73,15.88),(16.5,17.0),(18.83,19.3),(21.45,21.7)]),
           ('ON',[-.03,(.33,.45),3.45,(3.55,3.6),(4.08,4.15),(5.76,5.85),(6.45,6.55),(7.58,7.66),(8.4,8.5),(8.95,9.0),(9.1,9.2),10.4,10.5,10.95,(11.4,11.45),(11.5,11.55),(11.6,11.65),(11.7,11.75),(11.8,11.85),(11.9,11.98),(17.0,17.05),(17.2,17.3),(18.83,18.9),(19.0,19.08),(19.24,19.3),(20.69,20.8),(21.7,21.95)]),
           ('HY',[(.28,.33),(4.25,4.35),7.35,(7.65,7.72),(8.2,8.3),(9.2,9.3),(5.87,5.93)]),('OA',[.18,3.75,5.72,10.0,10.55,(12.45,12.55),21.68]),
           ('H14',[(16.05,16.47),12.08]),('W',[21.0,22.45])]
PB_N = [(2.6,3.45)]
P2 = [(18.83,18.95),(19.05,19.15),(19.3,19.42),(20.73,20.78),(21.5,21.7)]
pab_h1 = [('MN',[(-.06,17.52)]),('H22',[(17.52,22.47)]),('W',PB_N+[21.0,17.45]),('MA',[(0,.25),(3.73,4.07),(4.45,5.76),(7.42,7.6),(16.25,16.47),12.12]),
          ('MN',[4.7,4.85,5.0,5.15,5.3]),('H21',[1.0,1.35,6.66,11.15,(17.0,17.05)]),('ON',[4.3,(6.19,6.4),(6.45,6.64),9.03,9.82,(11.0,11.53),(16.02,16.05),17.05,(17.15,17.4)]+P2),('OA',[.0,3.73,5.76,8.22,9.55,10.55,(16.1,16.16)])]
pab_h2 = [('MN',[(-.06,17.52)]),('H22',[(17.52,22.47)]),('W',PB_N+[21.0,17.45]),('MA',[(0,.25),(2.3,2.6),(3.73,4.07),(4.45,5.76),(7.42,7.6),(16.25,16.47),12.5]),
          ('H21',[1.0,1.35,6.66,(17.0,17.05)]),('ON',[.42,2.58,3.55,4.15,7.67,8.37,8.95,(6.19,6.4),(6.45,6.64),10.3,(11.0,11.53),(16.02,16.05),17.05,(17.15,17.4)]+P2),('OA',[.0,3.73,5.76,8.22,10.55,(16.1,16.16)]),('H15',[12.08])]
ppy_h1 = [('MN',[(-.06,17.52)]),('H22',[(17.52,22.47)]),('W',PB_N+[21.0,17.45]),('MA',[(0,.25),.5,.6,.7,(.78,.85),(.95,1.7),(1.75,1.95),(3.73,4.07),(4.45,4.6),(5.4,5.76),(7.42,7.6),(16.25,16.47)]),
          ('H21',[2.1,6.3,6.35,11.15,(17.0,17.05)]),('ON',[2.58,4.3,(6.19,6.4),(6.45,7.0),(11.0,11.53),(17.0,17.08),(17.15,17.4)]+P2),('OA',[.0,3.73,5.76,8.22,10.55,(16.1,16.16)])]
ppy_h2 = [('MN',[(-.06,17.52)]),('H22',[(17.52,22.47)]),('W',PB_N+[17.45]),('MA',[(0,.25),(3.73,4.07),(4.45,4.6),(5.4,5.76),(7.42,7.6),(16.25,16.47),12.0,12.15]),
          ('H21',[.5,2.1,6.3,6.4,(17.0,17.05)]),('ON',[2.58,4.3,(6.19,6.3),(6.4,6.7),9.4,9.6,(11.0,11.53),(17.05,17.2),(17.3,17.45)]+P2),('HY',[9.55,11.0,6.72]),('OA',[.0,3.73,5.76,7.5,8.22,10.55,(16.1,16.16)]),('H13',[17.35])]
d_rows = [('HSA (mat)',hsa_mat),('HSA (pat)',hsa_pat),('PPA (mat)',ppa_mat),('PPA (pat)',ppa_pat),('PTR H1',ptr_h1),('PTR H2',ptr_h2),
          ('GGO (mat)',ggo_mat),('GGO (pat)',ggo_pat),('PAB H1',pab_h1),('PAB H2',pab_h2),('PPY H1',ppy_h1),('PPY H2',ppy_h2)]

# =============== layout ===============
W, H = 1296, 1159
fig = plt.figure(figsize=(W/100, H/100), dpi=100)

def axpx(x0, y0, x1, y1, **kw):
    return fig.add_axes([x0/W, 1-y1/H, (x1-x0)/W, (y1-y0)/H], **kw)

ax_t = axpx(0, 0, W, H, zorder=20)
ax_t.set_xlim(0, W); ax_t.set_ylim(H, 0); ax_t.axis('off')
def T(x, y, s, ha='center', va='center', fs=FS, **kw):
    return ax_t.text(x, y, s, ha=ha, va=va, fontsize=fs, color=kw.pop('color', '#111111'), **kw)

for x, y, s in [(20,17,'a'),(20,466,'b'),(486,466,'c'),(20,777,'d')]:
    T(x, y, s, fs=14.5, fontweight='bold', color='k')

PX = 11.0
ax_a = axpx(0, 31.7, W, 415.6, zorder=1)
ax_a.set_xlim(0, W/PX); ax_a.set_ylim(34.9, 0); ax_a.patch.set_alpha(0)
for s in ['top','right','bottom']:
    ax_a.spines[s].set_visible(False)
ax_a.spines['left'].set_position(('data', 65/PX))
ax_a.spines['left'].set_linewidth(0.9)
ax_a.set_xticks([])
ax_a.set_yticks([0,10,20,30]); ax_a.set_yticks([5,15,25,34.9], minor=True)
ax_a.tick_params(axis='y', which='both', length=5.5, width=.8, labelsize=FS, pad=3)
for lb in ax_a.get_yticklabels():
    lb.set_color('#111111')

TX = {'HSA':(136.5,158),'PTR':(296,316),'PPA':(482,502),'GGO':(696,716),'PAB':(869,889),'PPY':(1076,1094),'SSY':(1205,1224.6)}
TW = 8.5
AX = {'HSA':(148,156),'PTR':(307,314),'PPA':(492,499.6),'GGO':(706,713),'PAB':(879,887),'PPY':(1086,1091),'SSY':(1215,1221)}
LBX = {'HSA':149,'PTR':310,'PPA':495.5,'GGO':709.5,'PAB':882.5,'PPY':1088,'SSY':1218}

def edge(sp, side):
    return (TX[sp][0]/PX) if side == 0 else ((TX[sp][1]+TW)/PX)

def rect_verts(sp, side, u0, u1, v0, v1):
    e = edge(sp, side); sg = -1 if side == 0 else 1
    pts = [(u0,v0),(u1,v0),(u1,v1),(u0,v1)]
    return [(e+sg*(v-u)/2, (u+v)/2) for u, v in pts]

def tri_verts(sp, side, a, b):
    e = edge(sp, side); sg = -1 if side == 0 else 1
    return [(e, a), (e+sg*(b-a)/2, (a+b)/2), (e, b)]

V, C = [], []
def add(v, c):
    V.append(v); C.append(c)

for sp in species:
    for side, (a, b) in enumerate(rdna_spans[sp]):
        ax_a.add_patch(Polygon(tri_verts(sp, side, a, b), closed=True, facecolor='#eedfdf', edgecolor='#c79fa2', hatch='|||||||', lw=0, clip_on=False, zorder=2))

for sp in species:
    for a, b, c, side in base_selfs.get(sp, []):
        add(tri_verts(sp, side, a, b), c)
    for u0, u1, v0, v1, c, side in bands[sp]:
        add(rect_verts(sp, side, u0, u1, v0, v1), c)

for sp, side, units, fam, col, faint in lattices:
    if faint:
        for i, (a, b) in enumerate(units):
            if i % 4 == 0:
                add(rect_verts(sp, side, faint[0], faint[1], a, b), PALE)
    for i, (a, b) in enumerate(units):
        for j in range(i, len(units)):
            c, d = units[j]
            fi, fj = fam[i], fam[j]
            match = fi == fj or ((fi == 'a' or fj == 'a') and 'n' not in (fi, fj)) or (fi in 'bc' and fj in 'bc')
            if i == j:
                add(tri_verts(sp, side, a, b), col)
            elif match:
                add(rect_verts(sp, side, a, b, c, d), col)
            elif sp in ('PAB','PPY'):
                add(rect_verts(sp, side, a, b, c, d), '#eef0f6')

for sp in species:
    for a, b, c, side in selfs[sp]:
        add(tri_verts(sp, side, a, b), c)
    s = spot_size[sp]
    for y, dx, c, side in spots[sp]:
        u, v = y-dx, y+dx
        add(rect_verts(sp, side, u-s, u+s, v-s, v+s), c)
ax_a.add_collection(PolyCollection(V, facecolors=C, edgecolors='none', linewidths=0, clip_on=False, zorder=3))

for sp in species:
    for side, segs in enumerate(tracks[sp]):
        x = TX[sp][side]/PX
        prev = 0.0
        for cl, end in segs:
            ax_a.bar(x, end-prev, bottom=prev, width=TW/PX, align='edge', color=CLS[cl], lw=0, clip_on=False, zorder=5)
            prev = end
    ka = sp.lower()
    for side, nm in enumerate(['_l','_r']):
        for cl, y in hsat_marks.get(ka+nm, []):
            ax_a.bar(TX[sp][side]/PX, .14, bottom=y, width=TW/PX, align='edge', color=CLS[cl], lw=0, clip_on=False, zorder=6)
    for side, (y0, y1) in enumerate(arrows[sp]):
        xa = AX[sp][side]/PX
        ax_a.annotate('', xy=(xa, y1), xytext=(xa, y0), annotation_clip=False, zorder=7,
                      arrowprops=dict(arrowstyle='-|>,head_length=.25,head_width=.12', lw=1.5, color='k', shrinkA=0, shrinkB=0, mutation_scale=10))
    T(LBX[sp], 21.5, sp)

T(24, 223, 'HSA22 (siamang chr. 21) self dotplots (Mb)', rotation=90)

ax_t.plot([81,165],[352.3,352.3],color='k',lw=.9)
ax_t.plot([337,416],[352.3,352.3],color='k',lw=.9)
ax_t.plot([165,258.5],[352.3,352.3],color='#5c3d8f',lw=.9)
ax_t.plot([295,337],[352.3,352.3],color='#5c3d8f',lw=.9)
ax_t.annotate('',xy=(91,352.3),xytext=(119,352.3),arrowprops=dict(arrowstyle='-|>,head_length=.45,head_width=.2',color='#e1352d',lw=1,shrinkA=0,shrinkB=0))
ax_t.annotate('',xy=(147.5,352.3),xytext=(119,352.3),arrowprops=dict(arrowstyle='-|>,head_length=.45,head_width=.2',color='#e1352d',lw=1,shrinkA=0,shrinkB=0))
ax_t.annotate('',xy=(338,338.3),xytext=(165,338.3),arrowprops=dict(arrowstyle='-|>,head_length=.5,head_width=.22',color='k',lw=1,shrinkA=0,shrinkB=0))
for xb in [258.5,294.6]:
    ax_t.plot([xb,xb],[345,360.7],color='k',lw=.9)
for xg in [169,189,209,228.6,250,304,324]:
    ax_t.plot([xg-2,xg-2,xg+1],[349,345.5,345.5],color='k',lw=.6)
    ax_t.add_patch(Rectangle((xg-2,348.5),4.5,8,facecolor='#1b9ad6',edgecolor='none',lw=0,zorder=5))
ax_t.plot([184.6,184.6,205,205],[356.5,360.7,360.7,356.5],color='k',lw=.8)
ax_t.plot([302.5,302.5,306,306],[358,360,360,358],color='k',lw=.7)
for x,y,s in [(276.5,312.5,'rDNA array'),(276.5,327,'(up to ~12 Mb)'),(119,344,'DJ'),(119,364,'Palindrome'),(119,378.5,'(~200 kb)'),
              (196,370,'rDNA unit'),(196,385,'(~38–45 kb)'),(313,371,'45S gene'),(313,386,'(~13 kb)'),(378,321,'Proximal'),(378,336,'junction')]:
    T(x,y,s)

ax_i = axpx(654, 296, 676.5, 433, zorder=3)
ax_i.pcolormesh([0,1], identity_index, np.arange(len(identity_colors)).reshape(-1,1), cmap=ListedColormap(identity_colors), edgecolors='none')
ax_i.set_xlim(0,1); ax_i.set_ylim(13,0); ax_i.set_xticks([]); ax_i.set_yticks([])
for y in identity_index:
    ax_i.axhline(y, color='#222222', lw=.8)
    ax_i.plot([1,1.1],[y,y],color='#222222',lw=.8,clip_on=False)
for s in ['left','right','top','bottom']:
    ax_i.spines[s].set_linewidth(.6)
    ax_i.spines[s].set_color('#333333')
for idx, lb in zip(identity_index, identity_labels):
    T(693 if lb == 100 else 689, 296+idx*137/13, str(lb))
T(650,281,'Identity (%)',ha='left'); T(725,281,'Sequence classes',ha='left')
for (nm,cl),y in zip(class_legend,[298,316,334,352,370,387,404,423]):
    ax_t.add_patch(Rectangle((724.6,y-6),11.4,12,color=CLS[cl],lw=0))
    T(740,y,nm,ha='left')

ax_b = axpx(54.3, 526.3, 298.3, 721, zorder=2)
b_all = np.hstack([np.array(m, dtype=float) for m in [b_hsa,b_ptr,b_ppa,b_ggo,b_pab,b_ppy,b_ssy]])
cmap_b = LinearSegmentedColormap.from_list('b',['#e3eaf1','#a8c2d9','#6a98ba','#2e7097','#123f5b'])
cmap_b.set_bad('white')
ax_b.pcolormesh(np.arange(15), np.arange(12), np.ma.masked_invalid(b_all), cmap=cmap_b, vmin=1, vmax=150, edgecolors='none')
ax_b.set_xlim(0,14); ax_b.set_ylim(11,0); ax_b.set_xticks([]); ax_b.set_yticks([])
for i in range(1,14):
    if i % 2:
        ax_b.axvline(i, color='#f0f0f0', lw=.5)
for i in range(1,11):
    ax_b.axhline(i, color='#eeeeee', lw=.5)
for i in range(2,14,2):
    ax_b.axvline(i, color='#222222', lw=.9)
for s in ax_b.spines.values():
    s.set_linewidth(1); s.set_color('#222222')
hw = 244/14; rh = 194.7/11
for i, sp in enumerate(species):
    ax_b.add_patch(Rectangle((2*i,-24/rh),2,24/rh,fill=False,ec='#222222',lw=1,clip_on=False))
    ax_b.text(2*i+1,-12/rh,sp,ha='center',va='center',fontsize=FS,color='#111111')
    for r in b_x.get(sp,[]):
        ax_b.text(2*i+1,b_rows.index(r)+.5,'x',ha='center',va='center',fontsize=FS,color='#111111')
    for r in b_dots.get(sp,[]):
        ax_b.text(2*i+1,b_rows.index(r)+.5,'•',ha='center',va='center',fontsize=FS-1.5,color='k')
for sp,r,h in b_dash:
    ax_b.text(2*species.index(sp)+h+.5,b_rows.index(r)+.5,'–',ha='center',va='center',fontsize=FS,color='k')
for i,r in enumerate(b_rows):
    ax_b.add_patch(Rectangle((-38.3/hw,i),38.3/hw,1,fill=False,ec='#222222',lw=1,clip_on=False))
    ax_b.text(-19/hw,i+.5,r,ha='center',va='center',fontsize=FS,color='#111111')
for i,(lab,sym) in enumerate(zip(b_legend,b_legend_sym)):
    y0 = 526.3+i*rh
    ax_t.add_patch(Rectangle((300,y0),15,rh,fill=False,ec='#dddddd',lw=.8))
    T(307.5,y0+rh/2-.5,sym,color='k')
    T(319,y0+rh/2,lab,ha='left')
T(365,611,'rDNA copies')
ax_cb = axpx(316,622,415,640.7,zorder=3)
cb_grad = np.linspace(1,150,64).reshape(1,-1)
ax_cb.pcolormesh(np.linspace(0,150,65),[0,1],cb_grad,cmap=LinearSegmentedColormap.from_list('cb',['#e0e8ef','#a8c2d9','#6a98ba','#2e5a86','#14335a']),vmin=1,vmax=150)
ax_cb.add_patch(Rectangle((150,0),82,1,color='#10294a',lw=0))
ax_cb.set_xlim(0,232); ax_cb.set_ylim(0,1); ax_cb.set_yticks([]); ax_cb.set_xticks([])
for s in ax_cb.spines.values():
    s.set_visible(False)
for x in [0.5,150,231]:
    ax_cb.plot([x,x],[.82,1],color='k',lw=.8)
T(316,650,'1'); T(380,650,'150'); T(414,650,'>150')

ax_c = axpx(535.3,465,1259.3,721.7,zorder=2)
ax_c.set_xlim(0,348.9); ax_c.set_ylim(6.9,-.83)
yc = np.arange(len(species))
left = np.zeros(len(species))
for key,vals,col in c_stack:
    ax_c.barh(yc,vals,left=left,height=.693,color=col,lw=0)
    left += np.array(vals)
ax_c.hlines(yc-.372,0,c_sds,color='#e8963c',lw=1.5,alpha=.85,zorder=4)
ax_c.set_yticks(yc); ax_c.set_yticklabels(species,fontsize=FS,color='#111111')
ax_c.set_xticks([0,100,200,300])
ax_c.tick_params(axis='y',length=0,pad=5)
ax_c.tick_params(axis='x',length=3,width=.8,labelsize=FS,pad=4,labelcolor='#111111')
for s in ['top','right']:
    ax_c.spines[s].set_visible(False)
ax_c.spines['left'].set_linewidth(.8)
ax_c.spines['bottom'].set_linewidth(1.3); ax_c.spines['bottom'].set_color('#555555')
T(897,757,'Sequence class composition (Mb)')
T(487,593,'Species',rotation=90)
ax_t.plot([1099,1111],[485,485],color='#e8963c',lw=1.5)
T(1116,485,'Total no. of SDs',ha='left')

ax_dx = axpx(174.3,812,1072.4,818.3,zorder=2)
ax_dx.set_xlim(0,22.45); ax_dx.set_ylim(0,1)
for s in ['top','left','right']:
    ax_dx.spines[s].set_visible(False)
ax_dx.spines['bottom'].set_linewidth(.9)
ax_dx.set_xticks(np.arange(0,22.6,2.5)); ax_dx.set_xticklabels(['0','','5','','10','','15','','',''])
ax_dx.set_yticks([])
ax_dx.xaxis.set_ticks_position('bottom')
ax_dx.tick_params(axis='x',direction='in',length=5,width=.8,labelbottom=False,labeltop=True,labelsize=FS,pad=2,labelcolor='#111111')
T(981,804,'20 Mb')
T(171,783,'CHM13 chr. 22',ha='left')

ax_d = axpx(172,834,1072.4,1142,zorder=2)
ax_d.set_xlim(-.06,22.45); ax_d.set_ylim(1142,834); ax_d.axis('off')
def paint(y0, h, layers, w=.035):
    for code, items in layers:
        rng = []
        for it in items:
            if isinstance(it, tuple):
                rng.append((it[0], it[1]-it[0]))
            else:
                rng.append((it, w))
        ax_d.broken_barh(rng, (y0, h), facecolors=DC[code], linewidth=0)

paint(834,16,cyto)
c0,cm,c1 = cyto_cen
ax_d.add_patch(Polygon([(c0,834),(cm,842),(c1,834),(c1,850),(cm,842),(c0,850)],closed=True,color=DC['a'],lw=0))
ax_d.text(5.18,842.5,'rDNA',ha='center',va='center',fontsize=FS,color='#111111')
paint(851,15.7,refseq)
paint(867.7,16,[('GL',[(-.06,22.47)]),('DG',protein_gray),('ON',protein_black)],w=.025)
paint(884,16,[('GL',[(-.06,22.47)]),('DG',pseudo_gray),('ON',pseudo_black)],w=.03)
paint(900.7,16,[('GL',[(-.06,22.47)]),('DG',rna_gray),('ON',rna_black)],w=.03)
paint(918,16,satellites)
for lab,y in [('Cytobands',842),('RefSeq gene annotations',859),('Protein-coding gene density',875.5),('Pseudogene density',892),('RNA gene density',909),('Satellites',926)]:
    T(166,y,lab,ha='right')
d_tops = [942,958.3,975,992,1008.7,1025.7,1042,1059,1075.7,1092.7,1109,1125.7]
for (lab,layers),y in zip(d_rows,d_tops):
    paint(y,16,layers)
    T(166,y+8.5,lab,ha='right')
for (nm,code),y in zip(d_legend,[871,892.5,914,936,957,979,1000,1022,1044,1065,1087]):
    ax_t.add_patch(Rectangle((1102.5,y),14.5,15,facecolor=DC[code],edgecolor='#333333' if code=='W' else 'none',lw=.9))
    T(1121,y+8,nm,ha='left')

fig.savefig('out.png',dpi=100)
